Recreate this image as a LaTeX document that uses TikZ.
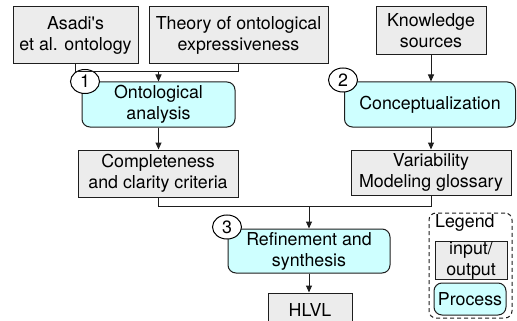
\documentclass[tikz,border=0pt]{standalone}
\usepackage{fontspec}
\setmainfont{TeX Gyre Heros}
\usetikzlibrary{arrows.meta,shapes.geometric}
\definecolor{iogray}{RGB}{236,236,236}
\definecolor{proccyan}{RGB}{206,255,255}
\definecolor{linegray}{RGB}{30,30,30}
\tikzset{
  every node/.style={font=\fontsize{17.8}{21}\selectfont, inner sep=0pt, align=center},
  iobox/.style={draw=linegray, line width=1pt, fill=iogray},
  procbox/.style={draw=linegray, line width=1pt, fill=proccyan, rounded corners=8pt},
  numcirc/.style={draw=black, line width=1pt, fill=white, ellipse, minimum width=29pt, minimum height=24pt},
  conn/.style={draw=linegray, line width=1pt},
  arr/.style={conn, -{Triangle[length=7pt,width=6pt]}},
  legbox/.style={draw=linegray, line width=1pt, dashed, dash pattern=on 4pt off 3pt, rounded corners=7pt}
}
\begin{document}
\begin{tikzpicture}[x=1pt,y=-1pt]
\clip (0,0) rectangle (517,321);
\fill[white] (0,0) rectangle (517,321);
% inputs
\node[iobox, minimum width=125pt, minimum height=57pt] (asadi) at (75.5,35.5) {Asadi\textquotesingle s\\et al. ontology};
\node[iobox, minimum width=179pt, minimum height=57pt] (theory) at (238.5,35.5) {Theory of ontological\\expressiveness};
\node[iobox, minimum width=110pt, minimum height=48pt] (know) at (431,31) {Knowledge\\sources};
% processes
\node[procbox, minimum width=153pt, minimum height=45pt] (onto) at (158.5,104.5) {Ontological\\analysis};
\node[procbox, minimum width=171pt, minimum height=45pt] (concept) at (430,104.5) {Conceptualization};
\node[numcirc] (c1) at (85,81.5) {1};
\node[numcirc] (c2) at (343,80) {2};
% outputs
\node[iobox, minimum width=160pt, minimum height=47pt] (compl) at (158,173.5) {Completeness\\and clarity criteria};
\node[iobox, minimum width=160pt, minimum height=45pt] (var) at (431,172.5) {Variability\\Modeling glossary};
% refinement
\node[procbox, minimum width=162pt, minimum height=44pt] (refine) at (309,251) {Refinement and\\synthesis};
\node[numcirc] (c3) at (227,227) {3};
\node[iobox, minimum width=84pt, minimum height=34pt] (hlvl) at (310,310) {HLVL};
% connectors
\coordinate (j1) at (158.5,72);
\draw[conn] (asadi.south) |- (j1);
\draw[conn] (theory.south) |- (j1);
\draw[arr] (j1) -- (onto.north);
\draw[arr] (know.south) -- (know.south |- concept.north);
\draw[arr] (onto.south) -- (onto.south |- compl.north);
\draw[arr] (concept.south -| var.north) -- (var.north);
\coordinate (j2) at (309,206);
\draw[conn] (compl.south) |- (j2);
\draw[conn] (var.south) |- (j2);
\draw[arr] (j2) -- (refine.north);
\draw[arr] (refine.south) -- (refine.south |- hlvl.north);
% legend
\node[legbox, minimum width=83pt, minimum height=105pt] (legend) at (470.5,265.5) {};
\node[anchor=west] (legtitle) at (435,223) {Legend};
\node[iobox, minimum width=72pt, minimum height=37pt] (legio) at (471,260.5) {input/\\output};
\node[procbox, minimum width=72pt, minimum height=32pt] (legproc) at (470,299) {Process};
\end{tikzpicture}
\end{document}
